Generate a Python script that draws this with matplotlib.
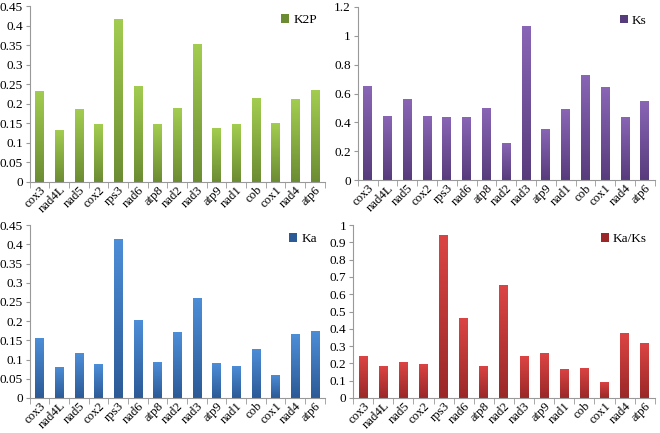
import numpy as np
import matplotlib
matplotlib.use('Agg')
import matplotlib.pyplot as plt
from matplotlib.colors import LinearSegmentedColormap
from matplotlib.patches import Patch

plt.rcParams['font.family'] = ['Liberation Serif', 'DejaVu Serif']

genes = ['cox3', 'nad4L', 'nad5', 'cox2', 'rps3', 'nad6', 'atp8', 'nad2',
         'nad3', 'atp9', 'nad1', 'cob', 'cox1', 'nad4', 'atp6']

k2p = [0.233, 0.133, 0.186, 0.147, 0.418, 0.246, 0.148, 0.189,
       0.352, 0.138, 0.148, 0.215, 0.150, 0.211, 0.235]
ks = [0.65, 0.445, 0.565, 0.443, 0.438, 0.437, 0.50, 0.26,
      1.07, 0.355, 0.49, 0.73, 0.643, 0.44, 0.548]
ka = [0.156, 0.081, 0.117, 0.088, 0.414, 0.202, 0.093, 0.171,
      0.261, 0.091, 0.084, 0.128, 0.061, 0.166, 0.175]
ka_ks = [0.24, 0.182, 0.206, 0.199, 0.945, 0.46, 0.186, 0.652,
         0.243, 0.258, 0.17, 0.175, 0.095, 0.375, 0.318]

yticks_small = [0, 0.05, 0.1, 0.15, 0.2, 0.25, 0.3, 0.35, 0.4, 0.45]
yticks_ks = [0, 0.2, 0.4, 0.6, 0.8, 1, 1.2]
yticks_ratio = [0, 0.1, 0.2, 0.3, 0.4, 0.5, 0.6, 0.7, 0.8, 0.9, 1]

# (данные, подпись, цвет сверху, цвет снизу, тики, позиция осей)
panels = [
    (k2p, 'K2P', '#a2cd50', '#6c8c33', yticks_small, [0.045, 0.580, 0.447, 0.406]),
    (ks, 'Ks', '#8a66b6', '#573c7c', yticks_ks, [0.542, 0.584, 0.450, 0.400]),
    (ka, 'Ka', '#4d8ed8', '#2c5a96', yticks_small, [0.045, 0.081, 0.447, 0.399]),
    (ka_ks, 'Ka/Ks', '#dc4444', '#9a2828', yticks_ratio, [0.535, 0.081, 0.457, 0.399]),
]

fig = plt.figure(figsize=(6.6, 4.33), dpi=100)
x = np.arange(len(genes))
grad = np.linspace(1, 0, 256).reshape(-1, 1)

for vals, name, top, bottom, yt, pos in panels:
    ax = fig.add_axes(pos)
    cmap = LinearSegmentedColormap.from_list(name, [bottom, top])
    bars = ax.bar(x, vals, width=0.44, color='none', edgecolor='none')
    for b in bars:
        x0, w, h = b.get_x(), b.get_width(), b.get_height()
        im = ax.imshow(grad, extent=[x0, x0 + w, 0, h], cmap=cmap,
                       aspect='auto', origin='upper', zorder=2)
        im.set_clip_path(b)
    ax.set_xlim(-0.5, len(genes) - 0.5)
    ax.set_ylim(yt[0], yt[-1])
    ax.set_yticks(yt)
    ax.set_yticklabels([('%g' % t) for t in yt], fontsize=9.5)
    ax.set_xticks(x)
    ax.set_xticklabels(genes, rotation=45, ha='right', rotation_mode='anchor', fontsize=9.2)
    ax.tick_params(axis='x', length=0, pad=1.5)
    ax.set_xticks(np.arange(-0.5, len(genes)), minor=True)
    ax.tick_params(axis='x', which='minor', length=4, color='#999999')
    ax.tick_params(axis='y', length=3, color='#999999', pad=2)
    for s in ['top', 'right']:
        ax.spines[s].set_visible(False)
    for s in ['left', 'bottom']:
        ax.spines[s].set_color('#999999')
        ax.spines[s].set_linewidth(0.8)
    ax.legend(handles=[Patch(facecolor=bottom, label=name)], loc='upper right',
              frameon=False, fontsize=9.5, handlelength=0.6, handleheight=0.6,
              handletextpad=0.3, borderaxespad=0.2)

plt.savefig('out.png', dpi=100)
